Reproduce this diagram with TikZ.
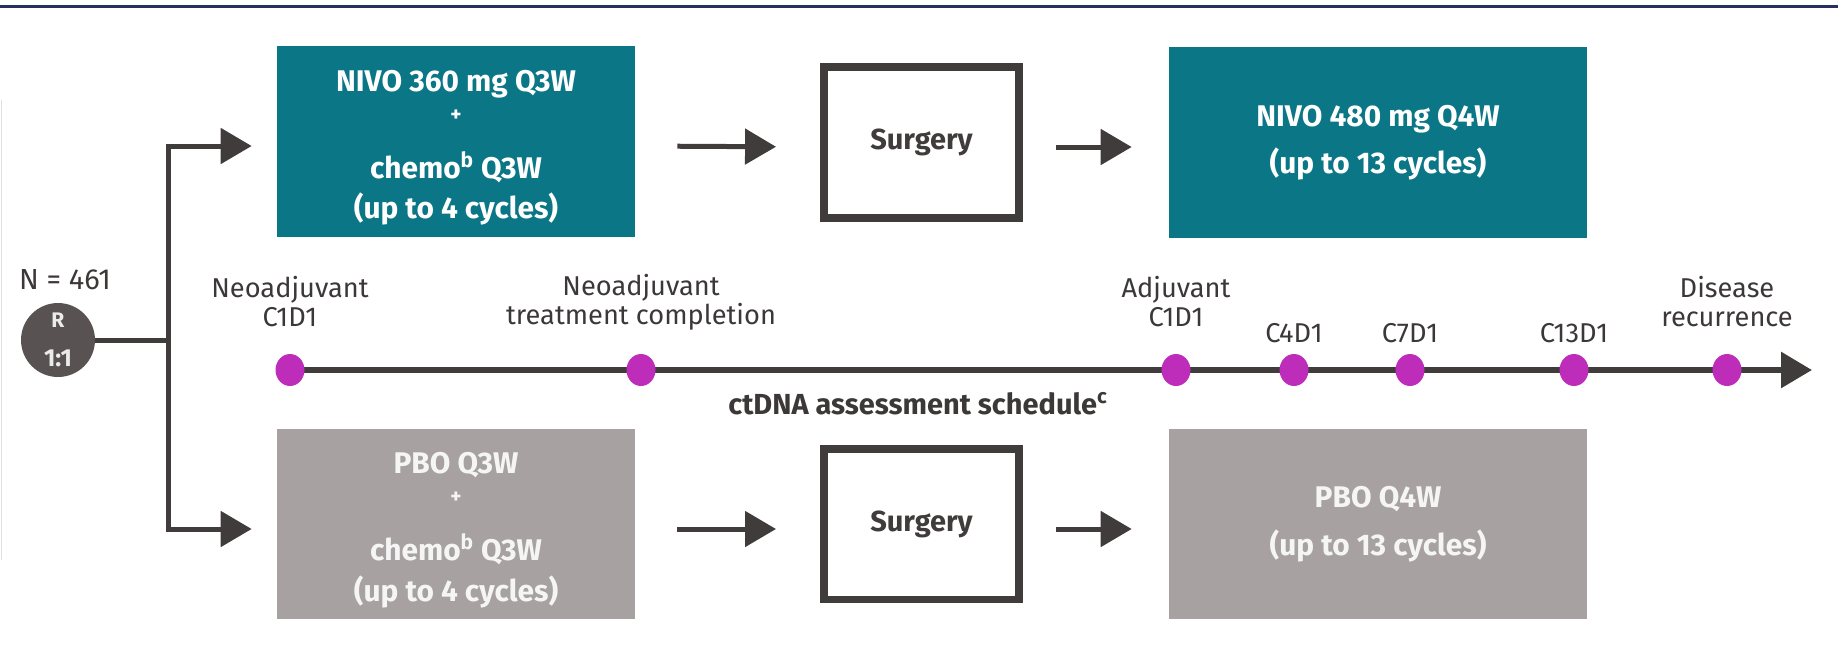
\documentclass[tikz,border=0pt]{standalone}
\usepackage{fontspec}
\setmainfont{Fira Sans}
\usetikzlibrary{arrows.meta,shapes.geometric,positioning,backgrounds}
\definecolor{nivoteal}{RGB}{11,118,134}
\definecolor{pbogray}{RGB}{167,161,161}
\definecolor{darkln}{RGB}{64,60,60}
\definecolor{dotmag}{RGB}{190,45,185}
\definecolor{navyln}{RGB}{42,46,98}
\definecolor{rgray}{RGB}{88,82,82}
\definecolor{lbltxt}{RGB}{60,56,56}
\newcommand{\plusline}{{\fontsize{12}{12}\selectfont +}}
\newcommand{\topstrut}{\rule{0pt}{19pt}}

\begin{document}
\begin{tikzpicture}[x=0.02cm, y=-0.02cm,
    arm/.style={minimum width=7.16cm, minimum height=3.82cm, align=center, text=white, font=\fontsize{17}{23}\selectfont\bfseries},
    nivo/.style={arm, fill=nivoteal},
    pbo/.style={arm, fill=pbogray, text=white!96!black},
    surg/.style={draw=darkln, line width=0.16cm, minimum width=3.9cm, minimum height=3.02cm, font=\fontsize{16.5}{18}\selectfont\bfseries, text=darkln},
    rand/.style={circle, fill=rgray, minimum size=1.48cm, inner sep=0pt, align=center, text=white!92!black, font=\fontsize{12}{22}\selectfont\bfseries},
    arr/.style={-{Triangle[length=0.62cm, width=0.7cm]}, line width=0.1cm, draw=darkln},
    tdot/.style={ellipse, fill=dotmag, minimum width=0.58cm, minimum height=0.64cm, inner sep=0pt},
    lbl/.style={align=center, text=lbltxt, font=\fontsize{15.5}{16.5}\selectfont}
]
\useasboundingbox (0,0) rectangle (1838,650);
\draw[line width=0.06cm, draw=navyln] (0,6) -- (1838,6);
\draw[gray!25, line width=0.02cm] (1,100) -- (1,560);

\node[nivo] (neo1) at (456,141.5) {\topstrut NIVO 360 mg Q3W\\[-6pt]\plusline\\[9.5pt]chemo\textsuperscript{b} Q3W\\(up to 4 cycles)};
\node[surg] (surg1) at (921.5,142.5) {Surgery};
\node[nivo, minimum width=8.36cm] (adj1) at (1378,142.5) {NIVO 480 mg Q4W\\[4pt](up to 13 cycles)};

\node[pbo] (neo2) at (456,524) {\topstrut PBO Q3W\\[-6pt]\plusline\\[9.5pt]chemo\textsuperscript{b} Q3W\\(up to 4 cycles)};
\node[surg] (surg2) at (921.5,524) {Surgery};
\node[pbo, minimum width=8.36cm] (adj2) at (1378,524) {PBO Q4W\\[4pt](up to 13 cycles)};

\node[lbl, font=\fontsize{16.5}{18}\selectfont] (ntot) at (65,280) {N = 461};
\node[rand] (rnd) at (58,340) {R\\{\fontsize{14}{14}\selectfont 1:1}};
\coordinate (br) at (168,340);
\coordinate (tip) at (1812,370);

\node[tdot] (d0) at (290,370) {};
\node[tdot] (d1) at (641,370) {};
\node[tdot] (d2) at (1176,370) {};
\node[tdot] (d3) at (1294,370) {};
\node[tdot] (d4) at (1410,370) {};
\node[tdot] (d5) at (1574,370) {};
\node[tdot] (d6) at (1727,370) {};

\node[lbl] (l0) at (290,302) {Neoadjuvant\\C1D1};
\node[lbl] (l1) at (641,302) {Neoadjuvant\\treatment completion};
\node[lbl] (l2) at (1176,302) {Adjuvant\\C1D1};
\node[lbl] (l3) at (1294,333) {C4D1};
\node[lbl] (l4) at (1410,333) {C7D1};
\node[lbl] (l5) at (1574,333) {C13D1};
\node[lbl] (l6) at (1727,302) {Disease\\recurrence};
\node[lbl, font=\fontsize{16.5}{18}\selectfont\bfseries] (ct) at (918,404) {ctDNA assessment schedule\textsuperscript{c}};

\draw[line width=0.1cm, draw=darkln] (rnd) -- (br);
\draw[arr, shorten >=0.5cm] (br) |- ([yshift=-0.09cm]neo1.west);
\draw[arr, shorten >=0.5cm] (br) |- ([yshift=-0.1cm]neo2.west);
\draw[arr, shorten <=0.84cm, shorten >=0.88cm] ([yshift=-0.09cm]neo1.east) -- ([yshift=-0.09cm]surg1.west);
\draw[arr, shorten <=0.66cm, shorten >=0.74cm] ([yshift=-0.09cm]surg1.east) -- ([yshift=-0.09cm]adj1.west);
\draw[arr, shorten <=0.84cm, shorten >=0.88cm] ([yshift=-0.1cm]neo2.east) -- ([yshift=-0.1cm]surg2.west);
\draw[arr, shorten <=0.66cm, shorten >=0.74cm] ([yshift=-0.1cm]surg2.east) -- ([yshift=-0.1cm]adj2.west);
\begin{scope}[on background layer]
\draw[arr, line width=0.12cm] (d0.center) -- (tip);
\end{scope}
\end{tikzpicture}
\end{document}
